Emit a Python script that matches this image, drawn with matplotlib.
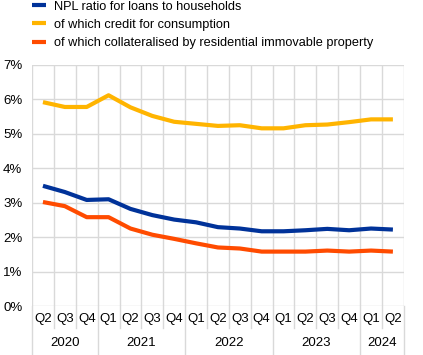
import numpy as np
import matplotlib.pyplot as plt

plt.rcParams['font.family'] = ['Liberation Sans', 'DejaVu Sans']

quarters = ["Q2", "Q3", "Q4",
            "Q1", "Q2", "Q3", "Q4",
            "Q1", "Q2", "Q3", "Q4",
            "Q1", "Q2", "Q3", "Q4",
            "Q1", "Q2"]
years = ["2020", "2021", "2022", "2023", "2024"]
year_lengths = [3, 4, 4, 4, 2]

npl_households = [3.49, 3.31, 3.08, 3.10, 2.82, 2.64, 2.51, 2.43, 2.29,
                  2.25, 2.17, 2.17, 2.20, 2.24, 2.20, 2.25, 2.22]
npl_consumption = [5.92, 5.78, 5.78, 6.12, 5.77, 5.52, 5.35, 5.29, 5.23,
                   5.25, 5.16, 5.16, 5.25, 5.27, 5.34, 5.42, 5.42]
npl_residential = [3.02, 2.90, 2.58, 2.58, 2.25, 2.07, 1.95, 1.82, 1.70,
                   1.67, 1.58, 1.58, 1.58, 1.61, 1.58, 1.61, 1.58]

labels = ["NPL ratio for loans to households",
          "of which credit for consumption",
          "of which collateralised by residential immovable property"]
colors = ["#003299", "#ffb400", "#ff4b00"]

fig = plt.figure(figsize=(4.23, 3.55), dpi=100)
ax = fig.add_axes([0.0757, 0.138, 0.879, 0.679])

x = np.arange(len(quarters))
for vals, lab, col in zip([npl_households, npl_consumption, npl_residential], labels, colors):
    ax.plot(x, vals, color=col, lw=3, label=lab, solid_capstyle="butt", zorder=3)

grid_col = "#d9d9d9"
ax.set_xlim(-0.5, len(quarters) - 0.5)
ax.set_ylim(0, 7)
ax.set_yticks(np.arange(0, 8))
ax.set_yticklabels([f"{v}%" for v in range(8)])
ax.set_xticks(x)
ax.set_xticklabels(quarters)
ax.set_xticks(np.arange(-0.5, len(quarters)), minor=True)
ax.grid(True, axis="y", color=grid_col, lw=1)
ax.grid(True, axis="x", which="minor", color=grid_col, lw=1)
ax.set_axisbelow(True)
for s in ax.spines.values():
    s.set_visible(False)
ax.tick_params(axis="both", which="both", length=0, labelsize=9.5, colors="#000000")
ax.tick_params(axis="y", pad=7)
ax.tick_params(axis="x", pad=5)

# separators under the category axis
tr = ax.get_xaxis_transform()
bounds = np.arange(-0.5, len(quarters))
year_bounds = np.concatenate([[-0.5], np.cumsum(year_lengths) - 0.5])
for b in bounds:
    depth = -0.205 if b in year_bounds else -0.092
    ax.plot([b, b], [0, depth], transform=tr, color=grid_col, lw=1, clip_on=False)

start = -0.5
for yr, n in zip(years, year_lengths):
    ax.text(start + n / 2, -0.155, yr, transform=tr, ha="center", va="center", fontsize=9.5)
    start += n

ax.legend(loc="upper left", bbox_to_anchor=(0.076, 0.998), bbox_transform=fig.transFigure,
          frameon=False, fontsize=9.2, handlelength=1.05, handletextpad=0.65,
          labelspacing=0.48, borderaxespad=0, borderpad=0)

fig.savefig("out.png", dpi=100)
